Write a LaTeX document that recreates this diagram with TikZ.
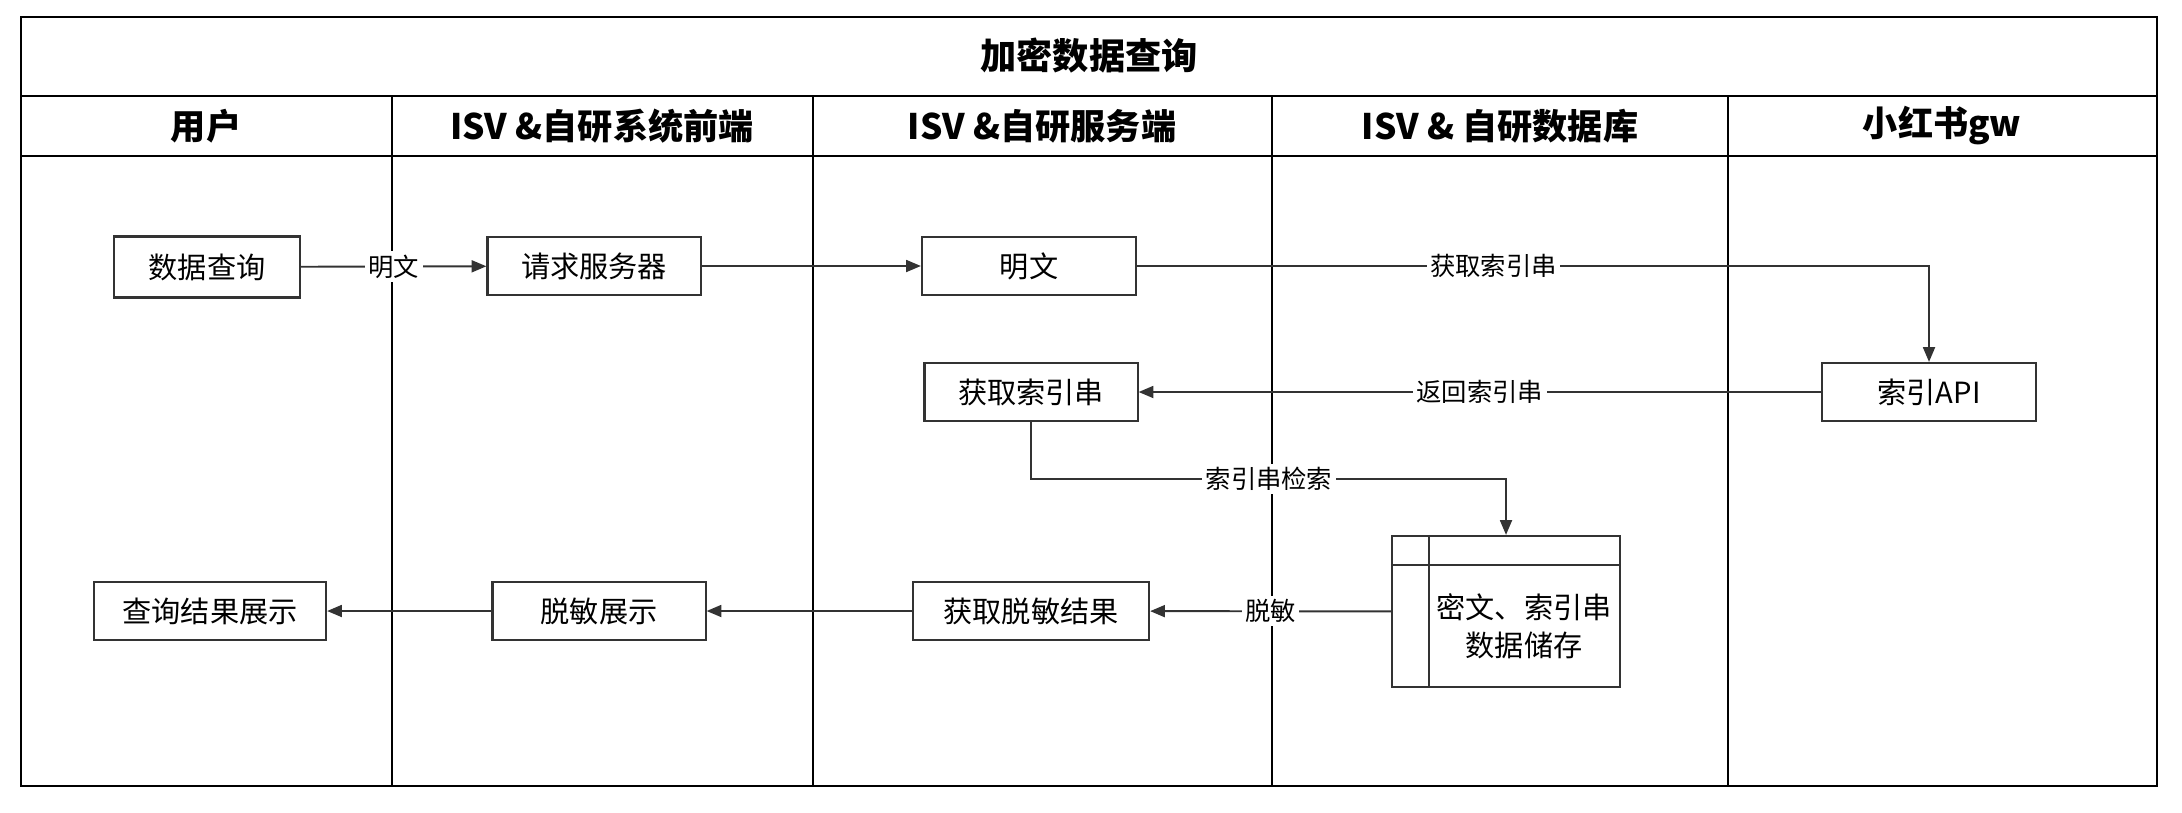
\documentclass[tikz,border=0pt]{standalone}
\usepackage{fontspec}
\setmainfont{Noto Sans CJK SC}
\usepackage{xcolor}
\usepackage{tikz}
\usetikzlibrary{
  arrows.meta,
  positioning
}
\definecolor{LineGray}{RGB}{51, 51, 51}
\tikzset{
    lane/.style={draw=black, line width=0.7pt},
    stepbox/.style={rectangle, draw=LineGray, line width=0.6pt, minimum height=0.58cm, inner sep=0pt, font=\fontsize{8.3}{10.8}\selectfont},
    flow/.style={draw=LineGray, line width=0.55pt, -{Triangle[length=4.2pt, width=3.4pt]}},
    flowlabel/.style={fill=white, inner sep=1pt, font=\fontsize{7.2}{9}\selectfont},
    headtext/.style={font=\fontsize{10}{12}\selectfont\bfseries}
}

\begin{document}
\begin{tikzpicture}[x=0.01cm, y=-0.01cm]
            \useasboundingbox (0,0) rectangle (2182,812);
            \draw[lane] (21,17) rectangle (2157,786);
            \draw[lane] (21,96) -- (2157,96);
            \draw[lane] (21,156) -- (2157,156);
            \draw[lane] (392,96) -- (392,786);
            \draw[lane] (813,96) -- (813,786);
            \draw[lane] (1272,96) -- (1272,786);
            \draw[lane] (1728,96) -- (1728,786);
            \node[font=\fontsize{10.3}{12}\selectfont\bfseries] (title) at (1089,56) {加密数据查询};
            \node[headtext] (hUser) at (206,126) {用户};
            \node[headtext] (hFront) at (602,126) {ISV \&自研系统前端};
            \node[headtext] (hServer) at (1042,126) {ISV \&自研服务端};
            \node[headtext] (hDb) at (1500,126) {ISV \& 自研数据库};
            \node[headtext] (hGw) at (1942,126) {小红书gw};

            \node[stepbox, minimum width=1.86cm, minimum height=0.61cm] (query) at (207,267) {数据查询};
            \node[stepbox, minimum width=2.13cm] (request) at (594,266) {请求服务器};
            \node[stepbox, minimum width=2.14cm] (plain) at (1029,266) {明文};
            \node[stepbox, minimum width=2.13cm] (getidx) at (1031,392) {获取索引串};
            \node[stepbox, minimum width=2.14cm] (api) at (1929,392) {索引API};
            \node[stepbox, minimum width=2.28cm, minimum height=1.51cm] (store) at (1506,611.5) {};
            \node[font=\fontsize{8.3}{10.8}\selectfont, align=center] (storetext) at (1524,626) {密文、索引串\\数据储存};
            \node[stepbox, minimum width=2.36cm] (getres) at (1031,611) {获取脱敏结果};
            \node[stepbox, minimum width=2.13cm] (mask) at (599,611) {脱敏展示};
            \node[stepbox, minimum width=2.32cm] (result) at (210,611) {查询结果展示};
            \draw[draw=LineGray, line width=0.6pt] ([xshift=0.38cm]store.north west) -- ([xshift=0.38cm]store.south west);
            \draw[draw=LineGray, line width=0.6pt] ([yshift=-0.3cm]store.north west) -- ([yshift=-0.3cm]store.north east);

            \coordinate (bend) at (1269,479);
            \draw[flow] (query) -- node[flowlabel] {明文} (request);
            \draw[flow] (request) -- (plain);
            \draw[flow] (plain.east) -| node[flowlabel, pos=0.225] {获取索引串} (api.north);
            \draw[flow] (api) -- node[flowlabel] {返回索引串} (getidx);
            \draw[flow] (getidx.south) |- (bend) node[flowlabel] {索引串检索} -| (store.north);
            \draw[flow] (store) -- node[flowlabel] {脱敏} (getres);
            \draw[flow] (getres) -- (mask);
            \draw[flow] (mask) -- (result);
        \end{tikzpicture}
\end{document}
